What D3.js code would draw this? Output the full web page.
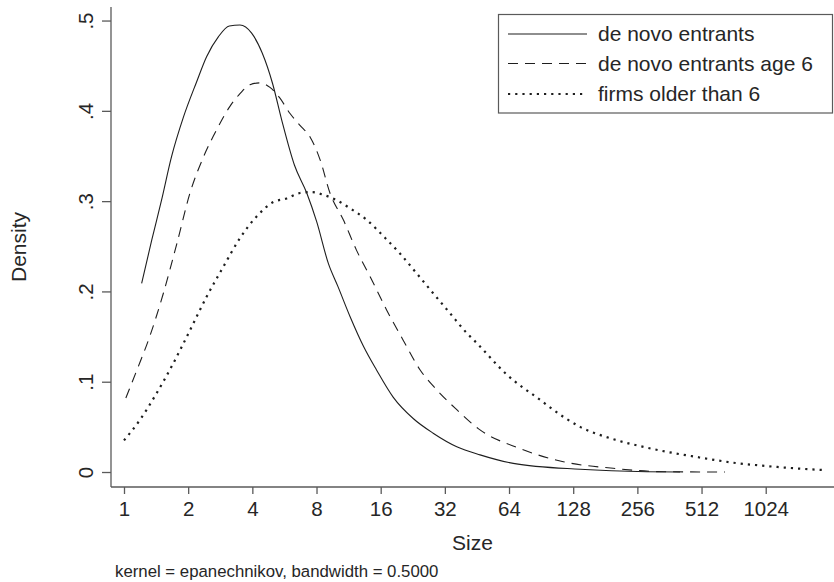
<!DOCTYPE html>
<html>
<head>
<meta charset="utf-8">
<script src="https://cdn.jsdelivr.net/npm/d3@7"></script>
<style>
  body { margin: 0; background: #fff; }
  svg { display: block; font-family: "Liberation Sans", Arial, sans-serif; }
</style>
</head>
<body>
<div id="chart-area"></div>
<script>
// kernel density of firm size
const deNovoSize = [1.21, 1.35, 1.50, 1.67, 1.90, 2.19, 2.44, 2.77, 3.12, 3.50, 3.97, 4.45, 4.98, 5.49,
  6.30, 7.20, 8.02, 9.09, 10.1, 11.5, 13.3, 15.3, 18.3, 22.8, 28.2, 36.4, 46.8, 67.0, 138, 283, 406]
const deNovoDensity = [0.209, 0.257, 0.301, 0.349, 0.393, 0.432, 0.460, 0.482, 0.494, 0.495, 0.486, 0.464, 0.430, 0.390,
  0.340, 0.309, 0.277, 0.231, 0.205, 0.172, 0.139, 0.113, 0.083, 0.059, 0.043, 0.028, 0.019, 0.0096, 0.003, 0.0003, 0.0]

const age6Size = [1.02, 1.15, 1.32, 1.53, 1.77, 2.04, 2.36, 2.72, 3.14, 3.50, 3.90, 4.34, 4.84, 5.39, 6.01,
  6.69, 7.46, 8.31, 9.25, 10.7, 12.3, 14.3, 17.1, 20.4, 24.5, 29.3, 36.4, 45.9, 72.0, 115, 197, 339, 660]
const age6Density = [0.082, 0.113, 0.150, 0.198, 0.253, 0.309, 0.349, 0.379, 0.405, 0.419, 0.429, 0.431, 0.426, 0.414, 0.397,
  0.384, 0.371, 0.346, 0.309, 0.279, 0.246, 0.216, 0.179, 0.146, 0.113, 0.091, 0.069, 0.048, 0.026, 0.0114, 0.0041, 0.0003, 0.0]

const olderSize = [1.00, 1.19, 1.42, 1.70, 2.04, 2.44, 2.92, 3.50, 4.19, 5.02, 5.80, 6.69, 7.60, 8.61, 9.95,
  11.5, 13.8, 16.5, 19.7, 23.6, 28.2, 33.8, 40.5, 45.1, 62.4, 89.4, 117, 138, 200, 283, 504, 722, 1035, 1484, 1908]
const olderDensity = [0.035, 0.058, 0.087, 0.120, 0.157, 0.194, 0.227, 0.259, 0.283, 0.299, 0.303, 0.309, 0.310, 0.307, 0.301,
  0.292, 0.279, 0.261, 0.242, 0.220, 0.198, 0.176, 0.154, 0.143, 0.108, 0.080, 0.060, 0.050, 0.036, 0.027, 0.016, 0.0103, 0.0066, 0.0037, 0.0022]

const seriesNames = ["de novo entrants", "de novo entrants age 6", "firms older than 6"]
const xTicks = [1, 2, 4, 8, 16, 32, 64, 128, 256, 512, 1024]
const yTicks = [0, 0.1, 0.2, 0.3, 0.4, 0.5]
const yTickLabels = ["0", ".1", ".2", ".3", ".4", ".5"]

const width = 834, height = 582
const plot = { left: 111, right: 834, top: 7, bottom: 487 }
const ink = "#1e1e1e", axisColor = "#5a5a5a", textColor = "#262626"

const svg = d3.select("#chart-area").append("svg")
  .attr("width", width).attr("height", height)

const xScale = d3.scaleLog().base(2)
  .domain([0.869, 2141])
  .range([plot.left, plot.right])

const yScale = d3.scaleLinear()
  .domain([-0.0166, 0.515])
  .range([plot.bottom, plot.top])

const series = [
  { name: seriesNames[0], x: deNovoSize, y: deNovoDensity, dash: null, w: 1.1 },
  { name: seriesNames[1], x: age6Size, y: age6Density, dash: "10,7", w: 1.1 },
  { name: seriesNames[2], x: olderSize, y: olderDensity, dash: "2.2,5", w: 2.2 }
]

const line = d3.line()
  .x(d => xScale(d[0]))
  .y(d => yScale(d[1]))
  .curve(d3.curveMonotoneX)

series.forEach(s => {
  svg.append("path")
    .attr("d", line(d3.zip(s.x, s.y)))
    .attr("fill", "none")
    .attr("stroke", ink)
    .attr("stroke-width", s.w)
    .attr("stroke-dasharray", s.dash)
})

// x axis
const xAxis = svg.append("g")
  .attr("transform", `translate(0,${plot.bottom})`)
  .call(d3.axisBottom(xScale).tickValues(xTicks).tickFormat(d3.format("d")).tickSize(7).tickPadding(7))
xAxis.select(".domain").attr("stroke", axisColor).attr("stroke-width", 1.3)
  .attr("d", `M${plot.left},0H${plot.right}`)
xAxis.selectAll(".tick line").attr("stroke", axisColor).attr("stroke-width", 1.3)
xAxis.selectAll(".tick text").attr("fill", textColor).style("font-size", "20.5px")
  .attr("font-family", "Liberation Sans, Arial, sans-serif")

// y axis
const yAxis = svg.append("g")
  .attr("transform", `translate(${plot.left},0)`)
  .call(d3.axisLeft(yScale).tickValues(yTicks).tickFormat((d, i) => yTickLabels[i]).tickSize(9))
yAxis.select(".domain").attr("stroke", axisColor).attr("stroke-width", 1.3)
  .attr("d", `M0,${plot.top}V${plot.bottom}`)
yAxis.selectAll(".tick line").attr("stroke", axisColor).attr("stroke-width", 1.3)
yAxis.selectAll(".tick text")
  .attr("fill", textColor).style("font-size", "20.5px")
  .attr("font-family", "Liberation Sans, Arial, sans-serif")
  .attr("x", null).attr("dy", null)
  .attr("text-anchor", "middle")
  .attr("transform", "translate(-18,0) rotate(-90)")

// axis titles
svg.append("text")
  .attr("x", (plot.left + plot.right) / 2).attr("y", 550)
  .attr("text-anchor", "middle").attr("fill", textColor)
  .style("font-size", "21px").text("Size")

svg.append("text")
  .attr("transform", `translate(26,${(plot.top + plot.bottom) / 2}) rotate(-90)`)
  .attr("text-anchor", "middle").attr("fill", textColor)
  .style("font-size", "21px").text("Density")

svg.append("text")
  .attr("x", 115).attr("y", 577)
  .attr("fill", textColor).style("font-size", "16.8px")
  .text("kernel = epanechnikov, bandwidth = 0.5000")

// legend
const legend = svg.append("g")
legend.append("rect")
  .attr("x", 498.5).attr("y", 14.5).attr("width", 334).attr("height", 98.5)
  .attr("fill", "#fff").attr("stroke", axisColor).attr("stroke-width", 1.2)

const rowY = [34, 63.5, 94]
series.forEach((s, i) => {
  legend.append("line")
    .attr("x1", 508).attr("x2", 587)
    .attr("y1", rowY[i]).attr("y2", rowY[i])
    .attr("stroke", ink).attr("stroke-width", s.w)
    .attr("stroke-dasharray", s.dash)
  legend.append("text")
    .attr("x", 598).attr("y", rowY[i]).attr("dy", "0.35em")
    .attr("fill", textColor).style("font-size", "21px")
    .text(s.name)
})
</script>
</body>
</html>
